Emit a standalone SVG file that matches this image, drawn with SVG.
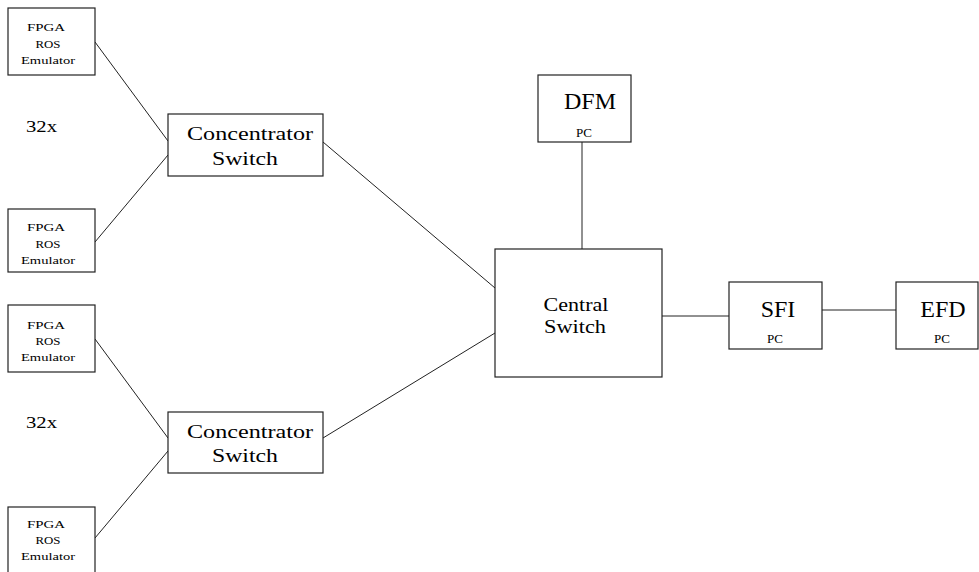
<svg xmlns="http://www.w3.org/2000/svg" width="979" height="572" viewBox="0 0 979 572">
<style>
.n{fill:#fff;stroke:#222;stroke-width:1.2}
.c line{stroke:#222;stroke-width:1}
text{font-family:"Liberation Serif","Times New Roman",serif;fill:#000;text-anchor:middle}
.s{font-size:11px}
.m{font-size:18px}
.l{font-size:24px}
.p{font-size:13px}
.x{font-size:16px}
</style>
<rect x="0" y="0" width="979" height="572" fill="#fff"/>
<g class="c" id="connectors">
<line x1="95" y1="42" x2="168" y2="141"/>
<line x1="95" y1="242" x2="168" y2="155"/>
<line x1="95" y1="339" x2="168" y2="438"/>
<line x1="95" y1="538" x2="168" y2="451"/>
<line x1="323" y1="142" x2="495" y2="288"/>
<line x1="323" y1="438" x2="495" y2="333"/>
<line x1="582" y1="142" x2="582" y2="249"/>
<line x1="662" y1="316" x2="729" y2="316"/>
<line x1="822" y1="310" x2="896" y2="310"/>
</g>
<g id="fpga1">
<rect class="n" x="8" y="8" width="87" height="67"/>
<text class="s" x="46" y="31" textLength="38" lengthAdjust="spacingAndGlyphs">FPGA</text>
<text class="s" x="48" y="48" textLength="25" lengthAdjust="spacingAndGlyphs">ROS</text>
<text class="s" x="48" y="64" textLength="54" lengthAdjust="spacingAndGlyphs">Emulator</text>
</g>
<g id="fpga2">
<rect class="n" x="8" y="209" width="87" height="63"/>
<text class="s" x="46" y="231" textLength="38" lengthAdjust="spacingAndGlyphs">FPGA</text>
<text class="s" x="48" y="248" textLength="25" lengthAdjust="spacingAndGlyphs">ROS</text>
<text class="s" x="48" y="264" textLength="54" lengthAdjust="spacingAndGlyphs">Emulator</text>
</g>
<g id="fpga3">
<rect class="n" x="8" y="305" width="87" height="67"/>
<text class="s" x="46" y="329" textLength="38" lengthAdjust="spacingAndGlyphs">FPGA</text>
<text class="s" x="48" y="345" textLength="25" lengthAdjust="spacingAndGlyphs">ROS</text>
<text class="s" x="48" y="361" textLength="54" lengthAdjust="spacingAndGlyphs">Emulator</text>
</g>
<g id="fpga4">
<rect class="n" x="8" y="507" width="87" height="70"/>
<text class="s" x="46" y="528" textLength="38" lengthAdjust="spacingAndGlyphs">FPGA</text>
<text class="s" x="48" y="544" textLength="25" lengthAdjust="spacingAndGlyphs">ROS</text>
<text class="s" x="48" y="560" textLength="54" lengthAdjust="spacingAndGlyphs">Emulator</text>
</g>
<g id="label32a"><text class="x" x="41.5" y="132" textLength="31" lengthAdjust="spacingAndGlyphs">32x</text></g>
<g id="label32b"><text class="x" x="41.5" y="428" textLength="31" lengthAdjust="spacingAndGlyphs">32x</text></g>
<g id="conc1">
<rect class="n" x="168" y="114" width="155" height="62"/>
<text class="m" x="250" y="140" textLength="126" lengthAdjust="spacingAndGlyphs">Concentrator</text>
<text class="m" x="245" y="165" textLength="66" lengthAdjust="spacingAndGlyphs">Switch</text>
</g>
<g id="conc2">
<rect class="n" x="168" y="412" width="155" height="61"/>
<text class="m" x="250" y="438" textLength="126" lengthAdjust="spacingAndGlyphs">Concentrator</text>
<text class="m" x="245" y="462" textLength="66" lengthAdjust="spacingAndGlyphs">Switch</text>
</g>
<g id="dfm">
<rect class="n" x="538" y="75" width="93" height="67"/>
<text class="l" x="590" y="109">DFM</text>
<text class="p" x="584" y="137">PC</text>
</g>
<g id="central">
<rect class="n" x="495" y="249" width="167" height="128"/>
<text class="m" x="576" y="311" textLength="65" lengthAdjust="spacingAndGlyphs">Central</text>
<text class="m" x="575" y="333" textLength="62" lengthAdjust="spacingAndGlyphs">Switch</text>
</g>
<g id="sfi">
<rect class="n" x="729" y="282" width="93" height="67"/>
<text class="l" x="778" y="317">SFI</text>
<text class="p" x="775" y="343">PC</text>
</g>
<g id="efd">
<rect class="n" x="896" y="282" width="82" height="67"/>
<text class="l" x="943" y="317">EFD</text>
<text class="p" x="942" y="343">PC</text>
</g>
</svg>
